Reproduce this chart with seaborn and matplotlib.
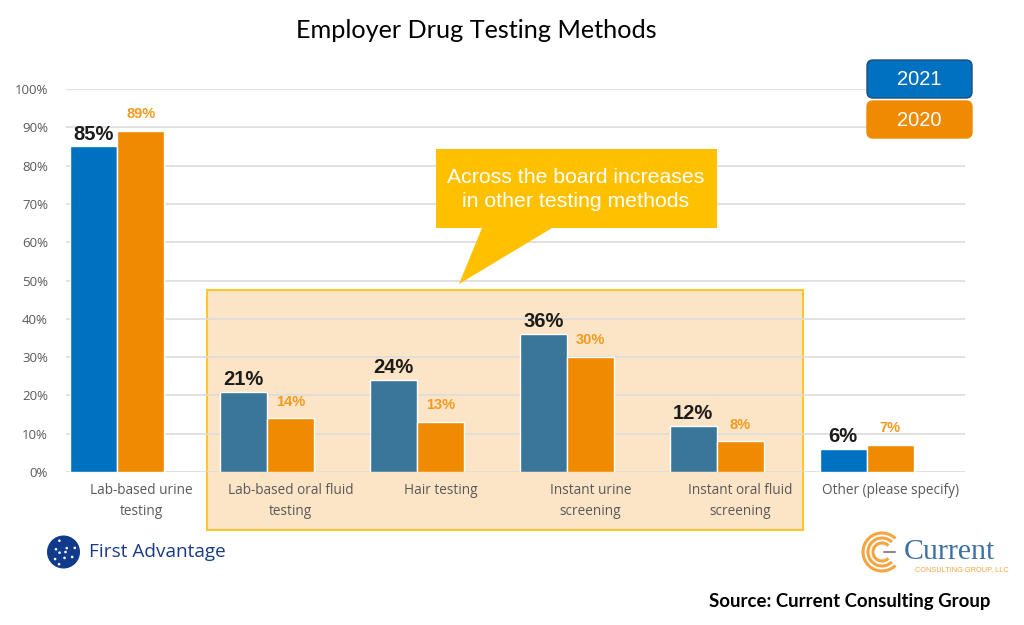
import numpy as np
import pandas as pd
import matplotlib
matplotlib.use("Agg")
import matplotlib.pyplot as plt
import seaborn as sns
from matplotlib.patches import Rectangle, Polygon, FancyBboxPatch, Circle, Arc

# ---------------- data ----------------
methods = ["Lab-based urine\ntesting", "Lab-based oral fluid\ntesting", "Hair testing",
           "Instant urine\nscreening", "Instant oral fluid\nscreening", "Other (please specify)"]
values_2021 = [85, 21, 24, 36, 12, 6]
values_2020 = [89, 14, 13, 30, 8, 7]
years = ["2021", "2020"]
y_ticks = list(range(0, 101, 10))
y_tick_labels = [f"{t}%" for t in y_ticks]

df = pd.DataFrame({
    "method": methods * 2,
    "year": [years[0]] * len(methods) + [years[1]] * len(methods),
    "value": values_2021 + values_2020,
})

BLUE = "#0070C0"
BLUE_HL = "#3A7699"
ORANGE = "#F08A00"

sns.set_theme(style="white")
plt.rcParams['font.family'] = ['Open Sans', 'DejaVu Sans']

fig = plt.figure(figsize=(10.24, 6.25), dpi=100)
fig.patch.set_facecolor("white")

# background overlay (pixel coordinates)
bg = fig.add_axes([0, 0, 1, 1], zorder=-2)
bg.set_xlim(0, 1024); bg.set_ylim(625, 0); bg.axis("off"); bg.set_facecolor("none")
bg.add_patch(Rectangle((207, 290), 596, 240, facecolor="#FCE4C6", edgecolor="#FFC52E", lw=1.5))

# main axes
ax = fig.add_axes([66 / 1024, 1 - 472 / 625, (965 - 66) / 1024, (472 - 89) / 625], zorder=0)
ax.set_facecolor("none")
sns.barplot(data=df, x="method", y="value", hue="year", hue_order=["2021", "2020", "pad"],
            palette={"2021": BLUE, "2020": ORANGE, "pad": "white"}, width=0.94, gap=0,
            saturation=1, edgecolor="white", linewidth=1, legend=False, ax=ax, errorbar=None)
ax.set_xlim(-0.5, 5.5)
ax.set_ylim(0, 100)
ax.set_yticks(y_ticks, y_tick_labels)
ax.yaxis.grid(True, color="#DCDCDC", lw=1.2)
ax.set_axisbelow(True)
for s in ax.spines.values():
    s.set_visible(False)
ax.set_xlabel(""); ax.set_ylabel("")
ax.tick_params(axis="y", length=0, pad=13, labelsize=9.5, labelcolor="#595959")
ax.tick_params(axis="x", length=0, pad=8, labelsize=9.8, labelcolor="#595959")
for lab in ax.get_xticklabels():
    lab.set_linespacing(1.5)

c2021 = ax.containers[0]
c2020 = ax.containers[1]
for i in range(1, 5):
    c2021[i].set_facecolor(BLUE_HL)

ax.bar_label(c2021, labels=[f"{v}%" for v in values_2021], padding=2, fontsize=14.5,
             fontweight="bold", color="#1E1C1A", family=["Liberation Sans", "DejaVu Sans"])
ax.bar_label(c2020, labels=[f"{v}%" for v in values_2020], padding=7, fontsize=10.5,
             fontweight="bold", color="#F39A1E", family=["Liberation Sans", "DejaVu Sans"])

# foreground overlay
fg = fig.add_axes([0, 0, 1, 1], zorder=2)
fg.set_xlim(0, 1024); fg.set_ylim(625, 0); fg.axis("off"); fg.set_facecolor("none")

fg.text(476, 30, "Employer Drug Testing Methods", ha="center", va="center", fontsize=18.2,
        family=["Lato", "DejaVu Sans"], color="black")

# callout
fg.add_patch(Polygon([(436, 149), (717, 149), (717, 228), (552, 228), (459, 284),
                      (482, 228), (436, 228)], closed=True, facecolor="#FFC000", edgecolor="none"))
fg.text(576, 189.5, "Across the board increases\nin other testing methods", ha="center", va="center",
        fontsize=15.3, color="white", family=["Liberation Sans", "DejaVu Sans"], linespacing=1.3)

# legend boxes
fg.add_patch(FancyBboxPatch((867, 60), 105, 38, boxstyle="round,pad=0,rounding_size=6",
                            facecolor=BLUE, edgecolor="#1F4E79", lw=1))
fg.text(919.5, 79.5, "2021", ha="center", va="center", fontsize=14.5, color="white",
        family=["Liberation Sans", "DejaVu Sans"])
fg.add_patch(FancyBboxPatch((867, 101), 105, 37, boxstyle="round,pad=0,rounding_size=6",
                            facecolor=ORANGE, edgecolor=ORANGE, lw=1))
fg.text(919.5, 120, "2020", ha="center", va="center", fontsize=14.5, color="white",
        family=["Liberation Sans", "DejaVu Sans"])

# First Advantage logo
fg.add_patch(Circle((63.5, 552), 16.5, facecolor="#123A8C", edgecolor="none"))
for ang, r in [(30, 10), (80, 6), (140, 11), (200, 8), (250, 12), (310, 5), (0, 2), (110, 13), (170, 4), (340, 12)]:
    a = np.deg2rad(ang)
    fg.add_patch(Circle((63.5 + r * np.cos(a), 552 + r * np.sin(a)), 1.3, facecolor="white", edgecolor="none"))
fg.text(89, 552, "First Advantage", ha="left", va="center", fontsize=13.7, color="#1B3A8A",
        family=["Open Sans", "DejaVu Sans"])

# Current logo
for r in (19, 14, 9):
    fg.add_patch(Arc((882, 552), 2 * r, 2 * r, theta1=45, theta2=315, color="#F5A540", lw=2.2))
fg.plot([884, 895], [552, 552], color="#8C8C8C", lw=1.5)
fg.text(904, 552, "Current", ha="left", va="center", fontsize=21.5, color="#3E6FA3",
        family=["Liberation Serif", "DejaVu Serif"])
fg.text(962, 570, "CONSULTING GROUP, LLC", ha="center", va="center", fontsize=5.3, color="#F5A540",
        family=["Liberation Sans", "DejaVu Sans"])

fg.text(990, 601, "Source: Current Consulting Group", ha="right", va="center", fontsize=13.4,
        fontweight="bold", color="black", family=["Lato", "DejaVu Sans"])

fig.savefig("out.png", dpi=100, facecolor="white")
